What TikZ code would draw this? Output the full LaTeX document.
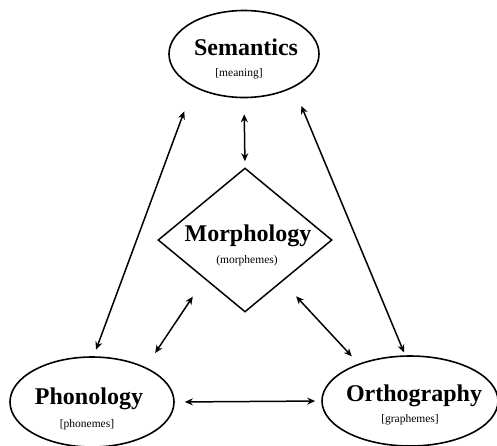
\documentclass[tikz,border=0pt]{standalone}
\usepackage{fontspec}
\setmainfont{Liberation Serif}
\usetikzlibrary{shapes.geometric,arrows.meta}
\begin{document}
\begin{tikzpicture}[x=1pt,y=-1pt,
  field/.style={ellipse,draw,line width=1.6pt,inner sep=0pt},
  ttl/.style={font=\bfseries\fontsize{24}{26}\selectfont},
  sub/.style={font=\fontsize{11.5}{12}\selectfont},
  link/.style={{Stealth[length=8pt,width=7pt]}-{Stealth[length=8pt,width=7pt]},line width=1.5pt}]
\useasboundingbox (0,0) rectangle (497,445);
\node[field,minimum width=150pt,minimum height=87pt] (sem) at (244,54) {};
\node[field,minimum width=164pt,minimum height=90pt] (pho) at (92,402) {};
\node[field,minimum width=176pt,minimum height=90pt] (ort) at (410,401) {};
\node[diamond,draw,line width=1.5pt,inner sep=0pt,minimum width=174pt,minimum height=144pt] (mor) at (245,240) {};
\node[ttl] (semt) at (246,47) {Semantics};
\node[sub] (sems) at (239,74) {[meaning]};
\node[ttl] (mort) at (248,236) {Morphology};
\node[sub] (mors) at (247,261) {(morphemes)};
\node[ttl] (phot) at (89,399) {Phonology};
\node[sub] (phos) at (87,425) {[phonemes]};
\node[ttl] (ortt) at (414,396) {Orthography};
\node[sub] (orts) at (410,420) {[graphemes]};
\draw[link,shorten <=16pt,shorten >=6pt] (sem.south) -- (mor.north);
\draw[link,shorten <=26pt,shorten >=7pt] (sem.213) -- (pho.88);
\draw[link,shorten <=20pt,shorten >=3pt] (sem.326) -- (ort.96);
\draw[link,shorten <=21pt,shorten >=17pt] (mor.224) -- (pho.33);
\draw[link,shorten <=20pt,shorten >=10pt] (mor.312) -- (ort.144);
\draw[link,shorten <=10pt,shorten >=6pt] (pho.east) -- (ort.west);
\end{tikzpicture}
\end{document}
